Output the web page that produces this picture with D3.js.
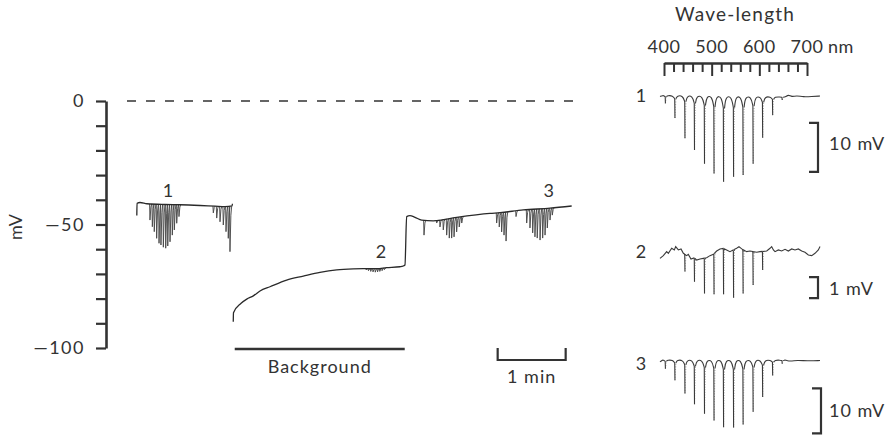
<!DOCTYPE html>
<html>
<head>
<meta charset="utf-8">
<script src="https://cdn.jsdelivr.net/npm/d3@7"></script>
<style>
body { margin: 0; background: #fff; }
svg { display: block; }
</style>
</head>
<body>
<svg id="fig" width="896" height="436"></svg>
<script>
// ---------- left: continuous recording, time (s) vs membrane potential (mV)
var seg1Base = [[1.6,-46.4],[1.8,-41.4],[4.4,-41.1],[10.6,-41.6],[26.5,-41.9],[39.7,-42.0],
  [57.4,-42.3],[70.6,-42.6],[79.4,-42.8],[85.6,-42.5],[86.0,-41.6]];
var seg1Spikes = [[13.2,-48.2],[15.3,-50.9],[17.0,-52.9],[19.1,-55.6],[21.2,-57.6],[22.9,-58.3],
  [25.0,-59.2],[27.1,-59.6],[28.9,-58.7],[30.9,-57.0],[32.9,-54.3],[34.7,-52.2],[36.8,-49.5],[38.8,-46.8],
  [69.1,-45.3],[72.1,-47.4],[75.0,-48.9],[77.9,-50.2],[80.3,-52.9],[82.3,-55.6],[83.8,-61.0]];
var seg2Base = [[86.7,-89.4],[86.9,-85.7],[93.6,-81.9],[98.6,-80.2],[104.4,-78.9],[110.3,-76.9],
  [119.1,-75.2],[133.8,-72.5],[148.5,-70.9],[163.2,-69.4],[178.0,-68.4],[192.6,-68.0],[201.4,-67.9],
  [213.3,-67.9],[222.1,-67.5],[233.8,-67.1],[236.7,-66.8],[238.2,-66.4],[239.7,-46.8],[242.6,-46.4],
  [247.1,-47.1],[253.0,-48.2],[263.2,-48.5],[283.8,-47.1],[313.2,-45.5],[322.1,-45.2],[342.6,-44.1],
  [366.2,-43.4],[385.3,-42.5]];
var seg2Spikes = [[204,-68.4],[206,-68.7],[208,-69.0],[210,-69.2],[212,-69.3],[214,-69.2],[216,-69.0],
  [218,-68.7],[220,-68.3],
  [255.0,-54.3],
  [266.2,-49.4],[269.1,-51.0],[272.0,-52.2],[275.0,-54.3],[277.3,-55.5],[279.4,-55.5],[281.5,-55.0],
  [283.8,-53.0],[286.1,-51.0],[288.3,-49.4],
  [319.1,-49.4],[321.4,-51.0],[323.5,-53.0],[325.6,-54.3],[327.4,-56.7],
  [336.2,-46.8],
  [345.6,-49.4],[348.5,-51.4],[350.9,-53.4],[352.9,-55.0],[354.9,-55.5],[357.4,-56.3],[359.7,-55.5],
  [361.8,-54.3],[363.8,-51.4],[366.2,-48.2],[368.2,-46.2]];
var yTicks = d3.range(0, -101, -10);
var yLabels = [0, -50, -100];
var background = [88, 238];
var minuteBar = [320, 380];
var segLabels = [["1", 29], ["2", 217], ["3", 365]];

// ---------- right: responses to flashes across the spectrum
var nmTicks = d3.range(400, 701, 20);
var nmLabels = [400, 500, 600, 700];
var flashNm = [403, 423, 444, 464, 485, 505, 525, 546, 566, 587, 607, 628, 648];
var resp1 = [-1.3, -4.3, -8.4, -10.8, -13.6, -15.6, -17.3, -16.3, -15.9, -13.6, -8.3, -3.7, -0.6];
var resp2 = [null, null, -0.79, -1.27, -1.83, -1.87, -1.87, -2.03, -1.83, -1.43, -0.71, null, null];
var resp3 = [-1.7, -4.3, -7.2, -9.6, -11.7, -13.2, -14.7, -14.8, -14.1, -11.3, -8.0, -3.2, -0.6];
var base1 = [[391.6,0.1],[398,0.3],[655,0.0],[661,0.5],[668,0.0],[678,0.3],[692,0.0],[710,0.1],[727.3,0.2]];
var base2 = [[391.6,-0.16],[398.6,-0.03],[405.6,0.16],[409.1,0.08],[416.1,0.32],[421.7,0.24],[424.5,0.4],
  [430.1,0.24],[435.7,0.29],[440.6,0.08],[447.6,-0.03],[451,0.03],[456.6,-0.19],[464,-0.13],[468.5,-0.24],
  [475.5,-0.19],[482.5,-0.16],[489.5,-0.13],[496.5,-0.03],[503.5,0.03],[510.5,0.19],[517.5,0.29],
  [524.4,0.32],[531.4,0.24],[538.4,0.16],[552.4,0.32],[557.3,0.4],[563,0.29],[573.5,0.16],[580.4,0.19],
  [594.5,0.13],[601.4,0.16],[615.5,0.19],[622.4,0.32],[625.9,0.4],[629.5,0.24],[632.9,0.16],[639.9,0.24],
  [646.9,0.19],[653.9,0.27],[660.8,0.19],[667.9,0.29],[674.8,0.24],[681.8,0.29],[688.9,0.19],[695.8,0.13],
  [702.8,0],[709.9,-0.03],[716.8,0.08],[723.8,0.24],[727.3,0.4]];
var base3 = [[391.6,-0.2],[396,0.2],[655,0.2],[665,-0.1],[680,0.2],[700,0],[727.3,0.1]];

var ink = "#333";
var font = "Lato, 'Open Sans', sans-serif";
var svg = d3.select("#fig");

// scales
var x = d3.scaleLinear().domain([0, 60]).range([135, 203]);
var y = d3.scaleLinear().domain([0, -100]).range([101, 348]);

// potential axis
var gy = svg.append("g")
    .attr("transform", "translate(106,0)")
    .call(d3.axisLeft(y).tickValues(yTicks).tickSize(10).tickSizeOuter(0).tickPadding(11)
      .tickFormat(function(d) { return yLabels.indexOf(d) < 0 ? "" : (d < 0 ? "\u2014" + (-d) : d); }));
gy.attr("font-family", font).attr("font-size", 18).attr("color", ink);
gy.select(".domain").attr("stroke-width", 2.6);
gy.selectAll(".tick line").attr("stroke-width", 2.2);
gy.selectAll(".tick text").attr("letter-spacing", 1.5);

svg.append("text")
    .attr("transform", "translate(22,227) rotate(-90)")
    .attr("text-anchor", "middle")
    .attr("font-family", font).attr("font-size", 18).attr("fill", ink)
    .text("mV");

// zero line
svg.append("line")
    .attr("x1", 127).attr("x2", 582)
    .attr("y1", y(0)).attr("y2", y(0))
    .attr("stroke", ink).attr("stroke-width", 1.3).attr("stroke-dasharray", "9,10");

// traces
var line = d3.line()
    .x(function(d) { return x(d[0]); })
    .y(function(d) { return y(d[1]); })
    .curve(d3.curveMonotoneX);

function drawSegment(base, spikes) {
  var bl = d3.scaleLinear().domain(base.map(function(d) { return d[0]; })).range(base.map(function(d) { return d[1]; }));
  svg.append("g").selectAll("path")
    .data(spikes)
    .enter()
    .append("path")
      .attr("d", function(d) {
        var b = bl(d[0]), dep = b - d[1];
        return d3.line().x(function(p) { return x(p[0]); }).y(function(p) { return y(p[1]); })([
          [d[0] - 0.35, b], [d[0], d[1]], [d[0] + 0.8, b - 0.2 * dep], [d[0] + 1.5, b]]);
      })
      .attr("fill", "none")
      .attr("stroke", "#444")
      .attr("stroke-width", 0.9);
  svg.append("path")
    .attr("d", line(base))
    .attr("fill", "none")
    .attr("stroke", "#2a2a2a")
    .attr("stroke-width", 1.3);
}
drawSegment(seg1Base, seg1Spikes);
drawSegment(seg2Base, seg2Spikes);

svg.append("g").selectAll("text")
  .data(segLabels)
  .enter()
  .append("text")
    .attr("x", function(d) { return x(d[1]); })
    .attr("y", function(d) { return d[0] === "2" ? 258 : 197; })
    .attr("text-anchor", "middle")
    .attr("font-family", font).attr("font-size", 18).attr("fill", ink)
    .text(function(d) { return d[0]; });

// background bar
svg.append("line")
    .attr("x1", x(background[0])).attr("x2", x(background[1]))
    .attr("y1", 349).attr("y2", 349)
    .attr("stroke", ink).attr("stroke-width", 2.6);
svg.append("text")
    .attr("x", x((background[0] + background[1]) / 2)).attr("y", 373)
    .attr("text-anchor", "middle")
    .attr("font-family", font).attr("font-size", 18).attr("letter-spacing", 1).attr("fill", ink)
    .text("Background");

// time calibration
svg.append("path")
    .attr("d", "M" + x(minuteBar[0]) + ",348V360H" + x(minuteBar[1]) + "V348")
    .attr("fill", "none").attr("stroke", ink).attr("stroke-width", 2.2);
svg.append("text")
    .attr("x", x((minuteBar[0] + minuteBar[1]) / 2)).attr("y", 383)
    .attr("text-anchor", "middle")
    .attr("font-family", font).attr("font-size", 18).attr("letter-spacing", 1).attr("fill", ink)
    .text("1 min");

// ---------- right panel
var nm = d3.scaleLinear().domain([400, 700]).range([664, 807]);

svg.append("text")
    .attr("x", 735).attr("y", 21)
    .attr("text-anchor", "middle")
    .attr("font-family", font).attr("font-size", 19).attr("letter-spacing", 1.2).attr("fill", ink)
    .text("Wave-length");

var gw = svg.append("g")
    .attr("transform", "translate(0,63)")
    .call(d3.axisBottom(nm).tickValues(nmTicks).tickSize(9).tickSizeOuter(0).tickFormat(""));
gw.attr("color", ink);
gw.select(".domain").attr("stroke-width", 2.4);
gw.selectAll(".tick line").attr("stroke-width", 2)
  .filter(function(d) { return nmLabels.indexOf(d) >= 0; }).attr("y2", 13);

svg.append("g").selectAll("text")
  .data(nmLabels)
  .enter()
  .append("text")
    .attr("x", function(d) { return nm(d); }).attr("y", 53)
    .attr("text-anchor", "middle")
    .attr("font-family", font).attr("font-size", 18).attr("letter-spacing", 0.5).attr("fill", ink)
    .text(function(d) { return d; });
svg.append("text")
    .attr("x", nm(700) + 21).attr("y", 53)
    .attr("font-family", font).attr("font-size", 18).attr("letter-spacing", 0.5).attr("fill", ink)
    .text("nm");

var panels = [
  {label: "1", base: base1, resp: resp1, y: d3.scaleLinear().domain([0, -10]).range([97, 146]), arcs: true,
   bar: [-5.3, -15.3], barX: 818, barLabel: "10 mV", labelY: 102, textY: 150},
  {label: "2", base: base2, resp: resp2, y: d3.scaleLinear().domain([0, -1]).range([255, 276]), arcs: false,
   bar: [-1.05, -2.05], barX: 818, barLabel: "1 mV", labelY: 258, textY: 295},
  {label: "3", base: base3, resp: resp3, y: d3.scaleLinear().domain([0, -10]).range([361, 406]), arcs: true,
   bar: [-6.1, -16.1], barX: 821, barLabel: "10 mV", labelY: 370, textY: 417}
];

panels.forEach(function(p) {
  var bl = d3.scaleLinear().domain(p.base.map(function(d) { return d[0]; })).range(p.base.map(function(d) { return d[1]; }));
  var k = p.arcs ? 0.14 : 0.03, gapIn = p.arcs ? 4.5 : 1.2;
  var pieces = [], returns = [], piece = [], prev = -Infinity;
  flashNm.forEach(function(f, i) {
    var m = p.resp[i];
    if (m == null) return;
    var dep = bl(f) - m;
    p.base.forEach(function(d) { if (d[0] > prev && d[0] < f - gapIn) piece.push(d); });
    piece.push([f - gapIn, bl(f - gapIn)]);
    piece.push([f - 0.5, bl(f) - k * dep]);
    pieces.push({pts: piece, end: [f, m]});
    var top = [f + 2, bl(f + 2) - k * dep];
    returns.push([[f, m], top]);
    piece = [top, [f + gapIn, bl(f + gapIn)]];
    prev = f + gapIn;
  });
  p.base.forEach(function(d) { if (d[0] > prev) piece.push(d); });
  pieces.push({pts: piece, end: null});

  var px = function(d) { return [nm(d[0]), p.y(d[1])]; };
  var curve = d3.line().curve(p.arcs ? d3.curveBasis : d3.curveLinear);
  svg.append("g").selectAll("path")
    .data(returns)
    .enter()
    .append("path")
      .attr("d", function(d) { return d3.line()(d.map(px)); })
      .attr("fill", "none").attr("stroke", "#999")
      .attr("stroke-width", 0.9).attr("stroke-dasharray", "1,1.6");
  svg.append("g").selectAll("path")
    .data(pieces)
    .enter()
    .append("path")
      .attr("d", function(d) {
        var s = curve(d.pts.map(px));
        if (d.end) s += "L" + px(d.end).join(",");
        return s;
      })
      .attr("fill", "none").attr("stroke", "#3a3a3a").attr("stroke-width", 1.1);

  svg.append("text")
    .attr("x", 641).attr("y", p.labelY)
    .attr("text-anchor", "middle")
    .attr("font-family", font).attr("font-size", 18).attr("fill", ink)
    .text(p.label);

  svg.append("path")
    .attr("d", "M" + (p.barX - 9) + "," + p.y(p.bar[0]) + "H" + p.barX + "V" + p.y(p.bar[1]) + "H" + (p.barX - 9))
    .attr("fill", "none").attr("stroke", ink).attr("stroke-width", 2.2);
  svg.append("text")
    .attr("x", 829).attr("y", p.textY)
    .attr("font-family", font).attr("font-size", 18).attr("letter-spacing", 1).attr("fill", ink)
    .text(p.barLabel);
});
</script>
</body>
</html>
